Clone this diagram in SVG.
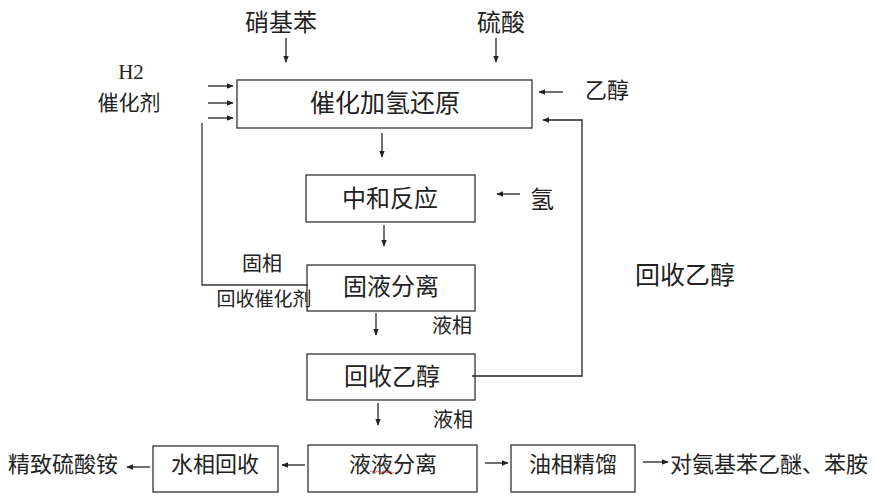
<svg xmlns="http://www.w3.org/2000/svg" width="876" height="500" viewBox="0 0 876 500">
<defs>
<marker id="ah" viewBox="0 0 10 10" refX="9" refY="5" markerWidth="7" markerHeight="7" markerUnits="userSpaceOnUse" orient="auto">
<path d="M0,1 L10,5 L0,9 Z" fill="#222"/>
</marker>
<style>
.box{fill:#fff;stroke:#333;stroke-width:1.3}
.ln{fill:none;stroke:#333;stroke-width:1.3}
.ar{fill:none;stroke:#222;stroke-width:1.3;marker-end:url(#ah)}
.t{font-family:"Noto Sans CJK SC","Noto Sans",sans-serif;fill:#222;text-anchor:middle;dominant-baseline:central}
.s{font-family:"Liberation Serif",serif;fill:#222;text-anchor:middle;dominant-baseline:central}
</style>
</defs>
<rect width="876" height="500" fill="#fff"/>
<g id="n1"><rect class="box" x="237" y="80" width="295" height="48"/><text class="t" x="385" y="101" font-size="25">催化加氢还原</text></g>
<g id="n2"><rect class="box" x="306" y="175" width="169" height="47"/><text class="t" x="390" y="196" font-size="24">中和反应</text></g>
<g id="n3"><rect class="box" x="307" y="265" width="168" height="46"/><text class="t" x="391" y="284" font-size="24">固液分离</text></g>
<g id="n4"><rect class="box" x="307" y="354" width="168" height="46"/><text class="t" x="392" y="374" font-size="24">回收乙醇</text></g>
<g id="n5"><rect class="box" x="308" y="445" width="169" height="47"/><text class="t" x="393" y="462" font-size="22">液液分离</text><path d="M370,472 q1.5,-2 3,0 t3,0 t3,0 t3,0 t3,0 t3,0 t3,0 t3,0" fill="none" stroke="#d33" stroke-width="0.8"/></g>
<g id="n6"><rect class="box" x="153" y="446" width="125" height="46"/><text class="t" x="215" y="462" font-size="22">水相回收</text></g>
<g id="n7"><rect class="box" x="511" y="445" width="124" height="47"/><text class="t" x="573" y="462" font-size="22">油相精馏</text></g>
<g id="labels">
<text class="t" x="281" y="20" font-size="24">硝基苯</text>
<text class="t" x="501" y="20" font-size="24">硫酸</text>
<text class="s" x="131" y="72" font-size="21">H2</text>
<text class="t" x="129" y="101" font-size="21">催化剂</text>
<text class="t" x="607" y="88" font-size="22">乙醇</text>
<text class="t" x="542" y="197" font-size="24">氢</text>
<text class="t" x="262" y="262" font-size="20">固相</text>
<text class="t" x="264" y="297" font-size="19">回收催化剂</text>
<text class="t" x="452" y="324" font-size="20">液相</text>
<text class="t" x="453" y="418" font-size="20">液相</text>
<text class="t" x="685" y="273" font-size="25">回收乙醇</text>
<text class="t" x="63" y="462" font-size="22">精致硫酸铵</text>
<text class="t" x="769" y="462" font-size="22">对氨基苯乙醚、苯胺</text>
</g>
<g id="connectors">
<line class="ar" x1="286" y1="38" x2="286" y2="62"/>
<line class="ar" x1="496" y1="38" x2="496" y2="62"/>
<line class="ar" x1="208" y1="86" x2="233" y2="86"/>
<line class="ar" x1="208" y1="103" x2="233" y2="103"/>
<line class="ar" x1="208" y1="118" x2="233" y2="118"/>
<line class="ar" x1="563" y1="92" x2="539" y2="92"/>
<polyline class="ar" points="472,376 582,376 582,120 543,120"/>
<polyline class="ln" points="202,123 202,285 308,285"/>
<line class="ar" x1="382" y1="133" x2="382" y2="157"/>
<line class="ar" x1="520" y1="194" x2="497" y2="194"/>
<line class="ar" x1="384" y1="225" x2="384" y2="246"/>
<line class="ar" x1="376" y1="313" x2="376" y2="335"/>
<line class="ar" x1="378" y1="403" x2="378" y2="425"/>
<line class="ar" x1="305" y1="465" x2="282" y2="465"/>
<line class="ar" x1="150" y1="467" x2="127" y2="467"/>
<line class="ar" x1="485" y1="463" x2="508" y2="463"/>
<line class="ar" x1="643" y1="462" x2="668" y2="462"/>
</g>
</svg>
